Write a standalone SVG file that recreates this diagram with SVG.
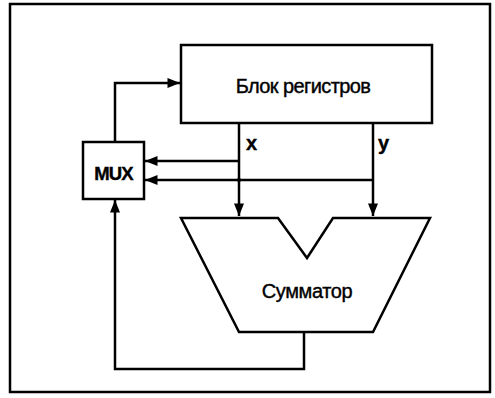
<svg xmlns="http://www.w3.org/2000/svg" width="495" height="398" viewBox="0 0 495 398">
<defs>
<style>
.s{fill:none;stroke:#000;stroke-width:2.5;stroke-linejoin:miter}
.b{fill:#fff;stroke:#000;stroke-width:2.5}
.t{font-family:"Liberation Sans",Arial,sans-serif;fill:#000;stroke:#000;stroke-width:0.4}
</style>
<marker id="ah" viewBox="0 0 10 10" refX="10" refY="5" markerWidth="5.5" markerHeight="5" orient="auto" markerUnits="strokeWidth">
<path d="M0,1 L10,5 L0,9 z" fill="#000"/>
</marker>
</defs>
<rect width="495" height="398" fill="#fff"/>
<rect x="10" y="4" width="480" height="388" class="s" stroke-width="3"/>
<g id="connectors" class="s">
<path d="M115,142 V83 H180" marker-end="url(#ah)"/>
<path d="M239,123 V216" marker-end="url(#ah)"/>
<path d="M373,123 V216" marker-end="url(#ah)"/>
<path d="M239,161 H145" marker-end="url(#ah)"/>
<path d="M373,180 H145" marker-end="url(#ah)"/>
<path d="M304,332 V369 H115 V200" marker-end="url(#ah)"/>
</g>
<circle cx="239" cy="180" r="2" fill="#000"/>
<g id="regs">
<rect x="181" y="45" width="251" height="78" class="b"/>
<text class="t" x="303" y="93" font-size="20" text-anchor="middle" letter-spacing="-0.6">Блок регистров</text>
</g>
<g id="mux">
<rect x="83" y="142" width="61" height="57" class="b"/>
<text class="t" x="113.5" y="180" font-size="18.5" font-weight="bold" text-anchor="middle" letter-spacing="-0.8">MUX</text>
</g>
<g id="adder">
<path d="M181,218 H278 L307,258 L333,218 H430 L373,332 H239 Z" class="b"/>
<text class="t" x="307" y="298" font-size="20" text-anchor="middle" letter-spacing="-0.4">Сумматор</text>
</g>
<text class="t" x="246" y="150" font-size="20" font-weight="bold">x</text>
<text class="t" x="378" y="150" font-size="20" font-weight="bold">y</text>
</svg>
